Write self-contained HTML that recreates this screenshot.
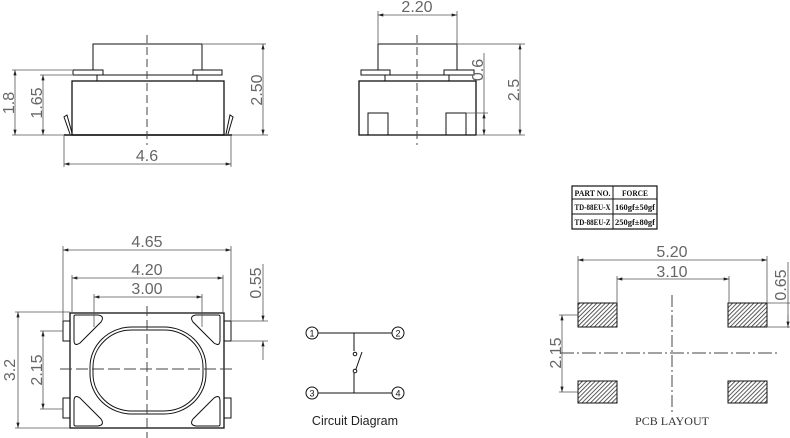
<!DOCTYPE html>
<html><head><meta charset="utf-8"><style>
html,body{margin:0;padding:0;background:#fff;}
svg{display:block;}
text{font-family:"Liberation Sans",sans-serif;fill:#555;}
.d{font-size:16px;fill:#666;}
.t{font-family:'Liberation Serif',serif;fill:#111;}
</style></head><body>
<svg width="790" height="438" viewBox="0 0 790 438" xmlns="http://www.w3.org/2000/svg">
<defs>
<marker id="a" viewBox="0 0 10 6" refX="10" refY="3" markerWidth="8" markerHeight="4" orient="auto-start-reverse"><path d="M0,0 L10,3 L0,6 z" fill="#222"/></marker>
<pattern id="h" width="3" height="3" patternUnits="userSpaceOnUse" patternTransform="rotate(45)"><rect width="3" height="3" fill="#fff"/><line x1="0" y1="0" x2="0" y2="3" stroke="#333" stroke-width="1.6"/></pattern>
</defs>
<g fill="none" stroke="#111" stroke-width="1">
<path d="M93,70 V44 H202 V70"/>
<line x1="202" y1="44" x2="266" y2="44" stroke="#777"/>
<rect x="73" y="70" width="30" height="5"/>
<rect x="193" y="70" width="29" height="5"/>
<rect x="97" y="75" width="100" height="6"/>
<rect x="72" y="81" width="152" height="54" stroke-width="1.3"/>
<path d="M70,134 L64,117 L67,115 L72,133" />
<path d="M226,134 L230,115 L233,117 L228,134"/>
<line x1="64" y1="135" x2="232" y2="135" stroke-width="1.5"/>
<line x1="147" y1="35" x2="147" y2="145" stroke-dasharray="8,4" stroke="#444"/>
<g stroke="#555" stroke-width="0.8">
<line x1="12" y1="70" x2="72" y2="70"/><line x1="12" y1="135" x2="64" y2="135"/>
<line x1="15" y1="70" x2="15" y2="135" marker-start="url(#a)" marker-end="url(#a)"/>
<line x1="40" y1="75" x2="72" y2="75"/>
<line x1="43" y1="75" x2="43" y2="135" marker-start="url(#a)" marker-end="url(#a)"/>
<line x1="232" y1="135" x2="268" y2="135"/>
<line x1="263" y1="44" x2="263" y2="135" marker-start="url(#a)" marker-end="url(#a)"/>
<line x1="64" y1="135" x2="64" y2="167"/><line x1="231" y1="135" x2="231" y2="167"/>
<line x1="64" y1="164" x2="231" y2="164" marker-start="url(#a)" marker-end="url(#a)"/>
</g>
<path d="M378,70 V44 H457 V70"/>
<line x1="457" y1="44" x2="525" y2="44" stroke="#777"/>
<rect x="361" y="70" width="29" height="5"/>
<rect x="444" y="70" width="30" height="5"/>
<rect x="385" y="75" width="64" height="6"/>
<rect x="359" y="81" width="117" height="54" stroke-width="1.3"/>
<rect x="368" y="113" width="20" height="22"/>
<rect x="446" y="113" width="20" height="22"/>
<line x1="417" y1="35" x2="417" y2="145" stroke-dasharray="8,4" stroke="#444"/>
<g stroke="#555" stroke-width="0.8">
<line x1="378" y1="44" x2="378" y2="11"/><line x1="457" y1="44" x2="457" y2="11"/>
<line x1="378" y1="15" x2="457" y2="15" marker-start="url(#a)" marker-end="url(#a)"/>
<line x1="466" y1="113" x2="488" y2="113"/><line x1="476" y1="135" x2="525" y2="135"/>
<line x1="484" y1="53" x2="484" y2="135"/>
<line x1="484" y1="125" x2="484" y2="113" marker-end="url(#a)"/>
<line x1="484" y1="125" x2="484" y2="135" marker-end="url(#a)"/>
<line x1="520" y1="44" x2="520" y2="135" marker-start="url(#a)" marker-end="url(#a)"/>
</g>
<rect x="70" y="313" width="154" height="115" stroke-width="1.3"/>
<rect x="63" y="321" width="7" height="20"/><rect x="63" y="398" width="7" height="20"/>
<rect x="224" y="321" width="7" height="20"/><rect x="224" y="398" width="7" height="20"/>
<path d="M75,315 H98 Q105,316 101,322 L80,343 Q74,347 74,340 V316 Z"/>
<path d="M219,315 H196 Q189,316 193,322 L214,343 Q220,347 220,340 V316 Z"/>
<path d="M75,426 H98 Q105,425 101,419 L80,398 Q74,394 74,401 V425 Z"/>
<path d="M219,426 H196 Q189,425 193,419 L214,398 Q220,394 220,401 V425 Z"/>
<rect x="90" y="327" width="116" height="87" rx="42" ry="40"/>
<rect x="93" y="330" width="110" height="81" rx="39" ry="37"/>
<line x1="147" y1="306" x2="147" y2="438" stroke-dasharray="10,4" stroke="#444"/>
<line x1="60" y1="369" x2="236" y2="369" stroke-dasharray="12,4" stroke="#444"/>
<g stroke="#555" stroke-width="0.8">
<line x1="63" y1="321" x2="63" y2="246"/><line x1="231" y1="321" x2="231" y2="246"/>
<line x1="63" y1="250" x2="231" y2="250" marker-start="url(#a)" marker-end="url(#a)"/>
<line x1="72" y1="313" x2="72" y2="275"/><line x1="223" y1="313" x2="223" y2="275"/>
<line x1="72" y1="278" x2="223" y2="278" marker-start="url(#a)" marker-end="url(#a)"/>
<line x1="94" y1="327" x2="94" y2="294"/><line x1="202" y1="327" x2="202" y2="294"/>
<line x1="94" y1="297" x2="202" y2="297" marker-start="url(#a)" marker-end="url(#a)"/>
<line x1="15" y1="312" x2="70" y2="312"/><line x1="15" y1="428" x2="70" y2="428"/>
<line x1="18" y1="312" x2="18" y2="428" marker-start="url(#a)" marker-end="url(#a)"/>
<line x1="40" y1="331" x2="63" y2="331"/><line x1="40" y1="409" x2="63" y2="409"/>
<line x1="43" y1="331" x2="43" y2="409" marker-start="url(#a)" marker-end="url(#a)"/>
<line x1="231" y1="321" x2="268" y2="321"/><line x1="231" y1="341" x2="268" y2="341"/>
<line x1="263" y1="264" x2="263" y2="321" marker-end="url(#a)"/>
<line x1="263" y1="360" x2="263" y2="341" marker-end="url(#a)"/>
</g>
<circle cx="312" cy="333" r="6"/><circle cx="398" cy="333" r="6"/>
<circle cx="312" cy="393" r="6"/><circle cx="398" cy="393" r="6"/>
<line x1="318" y1="333" x2="392" y2="333"/>
<line x1="318" y1="393" x2="392" y2="393"/>
<line x1="354" y1="333" x2="354" y2="351"/>
<circle cx="355" cy="354" r="1.8"/>
<circle cx="355" cy="371" r="1.8"/>
<line x1="356" y1="369" x2="362" y2="352"/>
<line x1="354" y1="373" x2="354" y2="393"/>
<rect x="572" y="186" width="85" height="43" stroke-width="1.2"/>
<line x1="572" y1="199" x2="657" y2="199"/><line x1="572" y1="214" x2="657" y2="214"/>
<line x1="613" y1="186" x2="613" y2="229"/>
<rect x="578" y="303" width="39" height="24" fill="url(#h)"/>
<rect x="728" y="303" width="39" height="24" fill="url(#h)"/>
<rect x="578" y="381" width="39" height="22" fill="url(#h)"/>
<rect x="728" y="381" width="39" height="22" fill="url(#h)"/>
<line x1="672" y1="295" x2="672" y2="412" stroke-dasharray="12,3,2,3" stroke="#444"/>
<line x1="560" y1="353" x2="780" y2="353" stroke-dasharray="14,3,2,3" stroke="#444"/>
<g stroke="#555" stroke-width="0.8">
<line x1="578" y1="303" x2="578" y2="256"/><line x1="767" y1="303" x2="767" y2="256"/>
<line x1="578" y1="260" x2="767" y2="260" marker-start="url(#a)" marker-end="url(#a)"/>
<line x1="617" y1="303" x2="617" y2="276"/><line x1="729" y1="303" x2="729" y2="276"/>
<line x1="617" y1="279" x2="729" y2="279" marker-start="url(#a)" marker-end="url(#a)"/>
<line x1="559" y1="315" x2="578" y2="315"/><line x1="559" y1="392" x2="578" y2="392"/>
<line x1="562" y1="315" x2="562" y2="392" marker-start="url(#a)" marker-end="url(#a)"/>
<line x1="767" y1="303" x2="790" y2="303"/><line x1="767" y1="327" x2="790" y2="327"/>
<line x1="788" y1="262" x2="788" y2="328"/>
<line x1="788" y1="315" x2="788" y2="327" marker-end="url(#a)"/>
</g>
</g>
<text class="d" x="147" y="161" text-anchor="middle">4.6</text>
<text class="d" transform="translate(14,103) rotate(-90)" text-anchor="middle">1.8</text>
<text class="d" transform="translate(42,103) rotate(-90)" text-anchor="middle">1.65</text>
<text class="d" transform="translate(262,90) rotate(-90)" text-anchor="middle">2.50</text>
<text class="d" x="417" y="12" text-anchor="middle">2.20</text>
<text class="d" transform="translate(483,70) rotate(-90)" text-anchor="middle">0.6</text>
<text class="d" transform="translate(519,90) rotate(-90)" text-anchor="middle">2.5</text>
<text class="d" x="147" y="247" text-anchor="middle">4.65</text>
<text class="d" x="147" y="275" text-anchor="middle">4.20</text>
<text class="d" x="147" y="294" text-anchor="middle">3.00</text>
<text class="d" transform="translate(15,370) rotate(-90)" text-anchor="middle">3.2</text>
<text class="d" transform="translate(42,370) rotate(-90)" text-anchor="middle">2.15</text>
<text class="d" transform="translate(261,283) rotate(-90)" text-anchor="middle">0.55</text>
<text class="d" x="672" y="257" text-anchor="middle">5.20</text>
<text class="d" x="672" y="277" text-anchor="middle">3.10</text>
<text class="d" transform="translate(561,353) rotate(-90)" text-anchor="middle">2.15</text>
<text class="d" transform="translate(786,285) rotate(-90)" text-anchor="middle">0.65</text>
<g font-size="9" text-anchor="middle">
<text x="312" y="336.5" style="fill:#111">1</text><text x="398" y="336.5" style="fill:#111">2</text>
<text x="312" y="396.5" style="fill:#111">3</text><text x="398" y="396.5" style="fill:#111">4</text>
</g>
<text x="355" y="425" text-anchor="middle" font-size="12.5" style="fill:#222">Circuit Diagram</text>
<g font-size="8" font-weight="bold" text-anchor="middle">
<text class="t" x="592.5" y="196" textLength="36" lengthAdjust="spacingAndGlyphs">PART NO.</text>
<text class="t" x="635" y="196" textLength="26" lengthAdjust="spacingAndGlyphs">FORCE</text>
<text class="t" x="592.5" y="210" textLength="36" lengthAdjust="spacingAndGlyphs">TD-88EU-X</text>
<text class="t" x="635" y="210" textLength="40" lengthAdjust="spacingAndGlyphs">160gf±50gf</text>
<text class="t" x="592.5" y="225" textLength="36" lengthAdjust="spacingAndGlyphs">TD-88EU-Z</text>
<text class="t" x="635" y="225" textLength="40" lengthAdjust="spacingAndGlyphs">250gf±80gf</text>
</g>
<text x="672" y="425" text-anchor="middle" font-size="12" style="font-family:'Liberation Serif',serif;fill:#333">PCB LAYOUT</text>
</svg>
</body></html>
